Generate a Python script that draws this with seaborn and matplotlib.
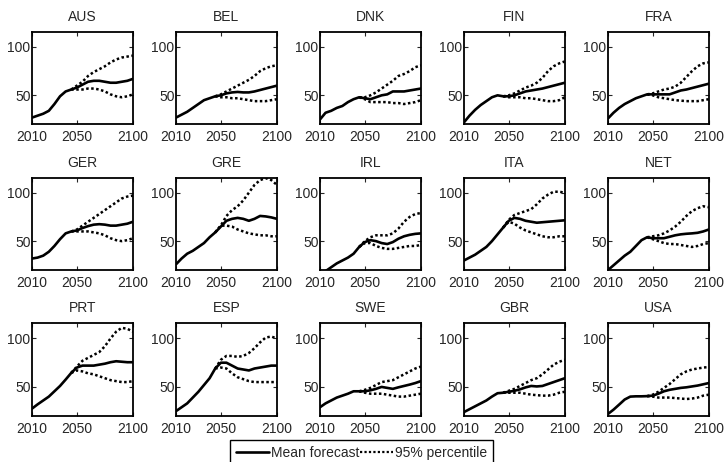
import numpy as np
import pandas as pd
import matplotlib
matplotlib.use("Agg")
import matplotlib.pyplot as plt
import seaborn as sns
from matplotlib.lines import Line2D

countries = ["AUS", "BEL", "DNK", "FIN", "FRA",
             "GER", "GRE", "IRL", "ITA", "NET",
             "PRT", "ESP", "SWE", "GBR", "USA"]

years = [2010, 2015, 2020, 2025, 2030, 2035, 2040, 2045, 2050, 2055,
         2060, 2065, 2070, 2075, 2080, 2085, 2090, 2095, 2100]
years_fc = [2045, 2050, 2055, 2060, 2065, 2070, 2075, 2080, 2085, 2090, 2095, 2100]

mean_AUS = [27, 29, 31, 34, 41, 49, 54, 56, 58, 61, 64, 65, 65, 64, 63, 63, 64, 65, 67]
up_AUS = [56, 60, 64, 70, 74, 77, 80, 84, 87, 89, 90, 91]
lo_AUS = [56, 56, 56, 57, 57, 56, 54, 51, 49, 48, 49, 51]

mean_BEL = [27, 30, 33, 37, 41, 45, 47, 49, 50, 52, 53, 53.5, 53, 53, 54, 55.5, 57, 58.5, 60]
up_BEL = [49, 51, 54, 57, 60, 63, 66, 70, 75, 78, 80, 81]
lo_BEL = [49, 48, 48, 47, 47, 46, 45, 44, 44, 44, 45, 46]

mean_DNK = [25, 32, 34, 37, 39, 43, 46, 48, 47, 46, 48, 50, 51, 54, 54, 54, 55, 56, 57]
up_DNK = [48, 48, 50, 53, 57, 61, 65, 70, 72, 75, 79, 81]
lo_DNK = [48, 46, 43, 43, 43, 43, 42, 42, 41, 42, 43, 45]

mean_FIN = [22, 29, 35, 40, 44, 48, 50, 49, 49, 50, 52, 54, 55, 56, 57, 58.5, 60, 61.5, 63]
up_FIN = [49, 50, 52, 55, 58, 60, 63, 68, 75, 80, 83, 85]
lo_FIN = [49, 48, 48, 48, 47, 47, 46, 45, 44, 44, 45, 48]

mean_FRA = [26, 32, 37, 41, 44, 47, 49, 51, 51, 51, 51, 51, 53, 55, 56, 57.5, 59, 60.5, 62]
up_FRA = [51, 52, 54, 56, 57, 59, 63, 69, 75, 80, 83, 84]
lo_FRA = [51, 50, 48, 47, 46, 45, 44.5, 44, 44, 44, 45, 46]

mean_GER = [32, 33, 35, 39, 45, 52, 58, 60, 61, 63.5, 65.5, 67, 67.5, 67, 66, 66, 67, 68, 70]
up_GER = [60, 62, 66, 70, 74, 78, 82, 86, 90, 94, 96, 97]
lo_GER = [60, 60, 60, 60, 59, 58, 56, 53, 51, 50, 51, 53]

mean_GRE = [26, 32, 37, 40, 44, 48, 54, 59, 65, 71, 73, 74, 73, 71, 73, 76, 75.5, 74.5, 73]
up_GRE = [59, 66, 76, 82, 86, 92, 100, 108, 113, 115, 113, 108]
lo_GRE = [59, 66, 66, 65, 62, 60, 58, 57, 56, 56, 55, 55]

mean_IRL = [15, 19, 23, 27, 30, 33, 37, 44, 49, 51, 50, 48, 47, 49, 52.5, 55, 56.5, 57.5, 58]
up_IRL = [44, 50, 54, 56, 56, 56, 58, 63, 70, 75, 78, 79]
lo_IRL = [44, 48, 48, 45, 43, 42, 42, 43, 44, 45, 45, 46]

mean_ITA = [30, 33, 36, 40, 44, 50, 57, 64, 71, 74, 73, 71, 70, 69, 69.5, 70, 70.5, 71, 71.5]
up_ITA = [64, 72, 77, 79, 81, 83, 88, 94, 98, 101, 101, 100]
lo_ITA = [64, 70, 68, 64, 61, 59, 57, 55, 54, 54, 55, 55]

mean_NET = [20, 25, 30, 35, 39, 45, 51, 54, 53, 53, 53, 54.5, 56, 57, 57.6, 58, 58.6, 60, 62]
up_NET = [54, 55, 56, 58, 61, 65, 70, 76, 81, 84, 86, 85]
lo_NET = [54, 52, 50, 48, 47, 47, 46, 45, 44, 45, 47, 48]

mean_PRT = [27.6, 32, 36, 40, 45.5, 51, 57.6, 64.5, 70, 72, 72, 72, 73, 74, 75.5, 76.5, 76, 75.5, 75.5]
up_PRT = [64.5, 71, 77, 80, 83, 86, 92, 100, 107, 111, 110, 107]
lo_PRT = [64.5, 67, 66, 64, 63, 61, 59, 57, 56, 55, 55, 56]

mean_ESP = [25, 29, 33, 39, 45, 52, 59, 69, 75, 75, 72, 69, 68, 67, 69, 70, 71, 72, 72]
up_ESP = [69, 78, 82, 82, 81, 82, 85, 90, 96, 101, 102, 100]
lo_ESP = [69, 70, 69, 64, 60, 58, 56, 55, 55, 55, 55, 55]

mean_SWE = [29, 33, 36, 39, 41, 43, 45.5, 45.5, 45.5, 46.5, 48, 50, 49, 48, 49.6, 51, 52.4, 54, 56]
up_SWE = [45.5, 47, 49, 52, 55, 56, 57, 60, 63, 66, 69, 71]
lo_SWE = [45.5, 44, 43, 43, 43, 42, 41, 40, 40, 41, 42, 43]

mean_GBR = [24, 27, 30, 33, 36, 40, 43.5, 44, 45, 46, 47.5, 49.5, 51, 50.5, 51, 53, 55, 57, 59]
up_GBR = [44, 46, 48, 51, 54, 57, 59, 63, 68, 73, 76, 78]
lo_GBR = [44, 44, 44, 44, 43, 42, 41.5, 41, 41, 42, 44, 45]

mean_USA = [22, 26.5, 31.7, 37, 40, 40.3, 40.3, 40.5, 41, 43, 45.5, 47, 48, 49, 49.6, 50.5, 51.4, 52.7, 54]
up_USA = [40.5, 42, 45, 49, 53, 58, 63, 66, 68, 69, 70, 70.5]
lo_USA = [40.5, 40, 39, 39, 39, 38.5, 38, 37.5, 38, 39, 41, 42]

series = {
    "AUS": (mean_AUS, up_AUS, lo_AUS), "BEL": (mean_BEL, up_BEL, lo_BEL),
    "DNK": (mean_DNK, up_DNK, lo_DNK), "FIN": (mean_FIN, up_FIN, lo_FIN),
    "FRA": (mean_FRA, up_FRA, lo_FRA), "GER": (mean_GER, up_GER, lo_GER),
    "GRE": (mean_GRE, up_GRE, lo_GRE), "IRL": (mean_IRL, up_IRL, lo_IRL),
    "ITA": (mean_ITA, up_ITA, lo_ITA), "NET": (mean_NET, up_NET, lo_NET),
    "PRT": (mean_PRT, up_PRT, lo_PRT), "ESP": (mean_ESP, up_ESP, lo_ESP),
    "SWE": (mean_SWE, up_SWE, lo_SWE), "GBR": (mean_GBR, up_GBR, lo_GBR),
    "USA": (mean_USA, up_USA, lo_USA),
}

x_ticks = [2010, 2050, 2100]
y_ticks = [50, 100]

sns.set_style("ticks")
plt.rcParams["font.family"] = ["Liberation Sans", "DejaVu Sans"]
plt.rcParams["font.size"] = 10

fig, axes = plt.subplots(3, 5, figsize=(7.27, 4.62), dpi=100)
fig.subplots_adjust(left=0.044, right=0.975, top=0.931, bottom=0.0996,
                    wspace=0.426, hspace=0.576)

for ax, c in zip(axes.flat, countries):
    m, u, l = series[c]
    sns.lineplot(x=years_fc, y=u, ax=ax, color="black", lw=1.8,
                 linestyle=(0, (1, 1)), legend=False)
    sns.lineplot(x=years_fc, y=l, ax=ax, color="black", lw=1.8,
                 linestyle=(0, (1, 1)), legend=False)
    sns.lineplot(x=years, y=m, ax=ax, color="black", lw=1.9, legend=False)
    ax.set_xlim(2010, 2100)
    ax.set_ylim(20, 115.5)
    ax.set_xticks(x_ticks)
    ax.set_yticks(y_ticks)
    ax.tick_params(direction="in", top=True, right=True, length=3, width=0.8,
                   labelsize=10, pad=4)
    ax.tick_params(axis="y", pad=1.0)
    for s in ax.spines.values():
        s.set_linewidth(1.3)
        s.set_color("black")
    ax.set_title(c, fontsize=10, pad=8)
    ax.set_xlabel("")
    ax.set_ylabel("")

handles = [Line2D([], [], color="black", lw=1.9),
           Line2D([], [], color="black", lw=1.6, linestyle=(0, (1, 1)))]
leg = fig.legend(handles, ["Mean forecast", "95% percentile"], loc="upper center",
                 bbox_to_anchor=(0.497, 1 - 440 / 462), ncol=2, frameon=True,
                 fancybox=False, edgecolor="black", framealpha=1, fontsize=10,
                 handlelength=2.4, handletextpad=0.1, columnspacing=0.05,
                 borderpad=0.45, borderaxespad=0)
leg.get_frame().set_linewidth(1.0)

fig.savefig("out.png", dpi=100)
